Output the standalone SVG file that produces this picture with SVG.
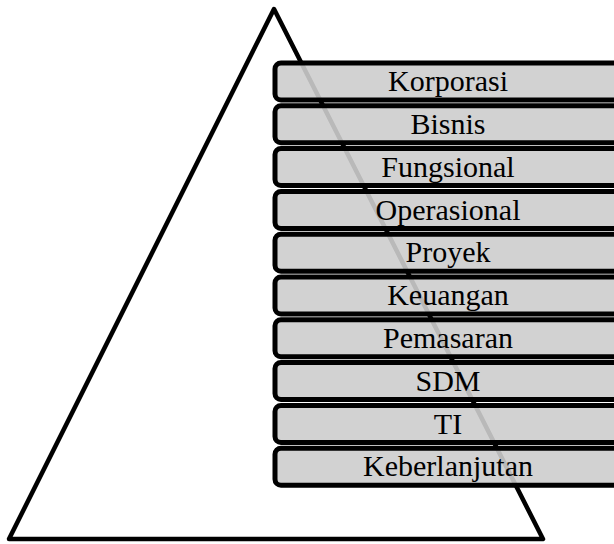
<svg xmlns="http://www.w3.org/2000/svg" width="614" height="544" viewBox="0 0 614 544">
<style>
.box{fill:#cdcdcd;fill-opacity:0.9;stroke:#000;stroke-width:5}
.lbl{font-family:"Liberation Serif","Times New Roman",serif;font-size:30px;fill:#000;text-anchor:middle}
.tri{fill:none;stroke:#000;stroke-width:4.5;stroke-linejoin:round}
</style>
<rect width="614" height="544" fill="#fff"/>
<g id="triangle"><path class="tri" d="M274,9 L543,539 L9,539 Z"/></g>
<g id="n1"><rect class="box" x="275" y="63" width="350" height="37" rx="6"/><text class="lbl" x="448" y="91.2">Korporasi</text></g>
<g id="n2"><rect class="box" x="275" y="105.8" width="350" height="37" rx="6"/><text class="lbl" x="448" y="134">Bisnis</text></g>
<g id="n3"><rect class="box" x="275" y="148.6" width="350" height="37" rx="6"/><text class="lbl" x="448" y="176.8">Fungsional</text></g>
<g id="n4"><rect class="box" x="275" y="191.4" width="350" height="37" rx="6"/><text class="lbl" x="448" y="219.6">Operasional</text></g>
<g id="n5"><rect class="box" x="275" y="234.2" width="350" height="37" rx="6"/><text class="lbl" x="448" y="262.4">Proyek</text></g>
<g id="n6"><rect class="box" x="275" y="277" width="350" height="37" rx="6"/><text class="lbl" x="448" y="305.2">Keuangan</text></g>
<g id="n7"><rect class="box" x="275" y="319.8" width="350" height="37" rx="6"/><text class="lbl" x="448" y="348">Pemasaran</text></g>
<g id="n8"><rect class="box" x="275" y="362.6" width="350" height="37" rx="6"/><text class="lbl" x="448" y="390.8">SDM</text></g>
<g id="n9"><rect class="box" x="275" y="405.4" width="350" height="37" rx="6"/><text class="lbl" x="448" y="433.6">TI</text></g>
<g id="n10"><rect class="box" x="275" y="448.2" width="350" height="37" rx="6"/><text class="lbl" x="448" y="476.4">Keberlanjutan</text></g>
<g id="connectors"></g>
</svg>
